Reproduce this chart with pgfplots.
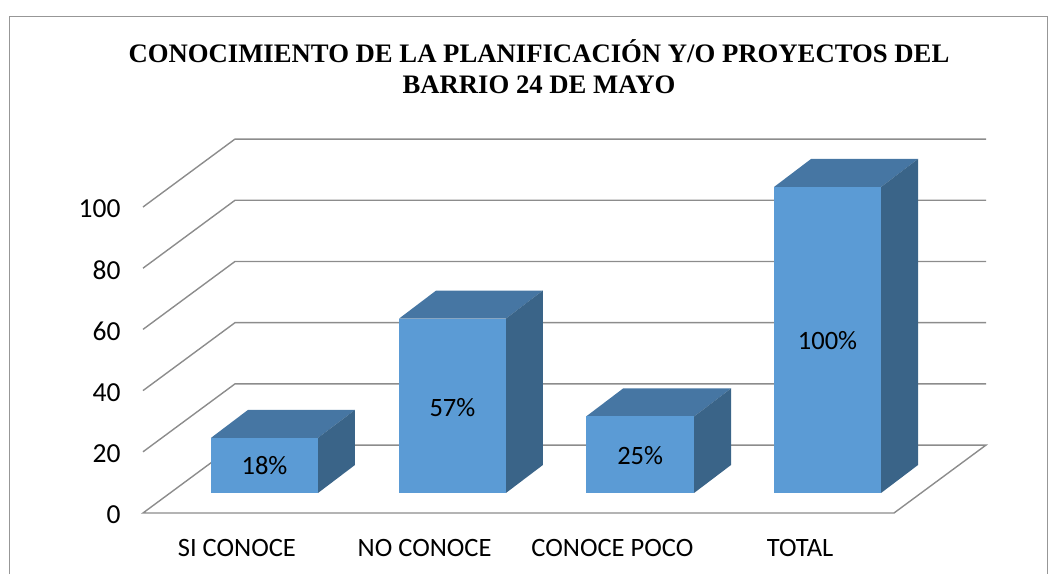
\documentclass[border=0pt]{standalone}
\usepackage{pgfplots}
\pgfplotsset{compat=1.18}
\usepackage{fontspec}
\setmainfont{Carlito}
\newfontfamily\titlefont{Liberation Serif}
\definecolor{barfront}{HTML}{5B9BD5}
\definecolor{bartop}{HTML}{4676A3}
\definecolor{barside}{HTML}{3A6488}
\definecolor{gridc}{HTML}{8C8C8C}
\begin{document}
\begin{tikzpicture}[x=1pt,y=1pt]
\path[use as bounding box] (-143,-61) rectangle (914,513);
\draw[color=gridc!90!white,line width=1pt] (-133.5,-61) -- (-133.5,496.5) -- (904,496.5) -- (904,-61);
\begin{axis}[
  at={(0,0)},anchor=south west,
  scale only axis,width=751pt,height=306pt,
  xmin=-0.5,xmax=3.5,ymin=0,ymax=100,
  clip=false,
  axis line style={draw=none},
  major tick length=0pt,
  separate axis lines,
  axis x line*=bottom,axis y line*=left,
  xtick={0,1,2,3},
  xticklabels={SI CONOCE,NO CONOCE,CONOCE POCO,TOTAL},
  ytick={0,20,40,60,80,100},
  /pgf/number format/assume math mode=true,
  xticklabel style={font=\fontsize{26.5}{28}\selectfont,text height=17pt,text depth=0pt,yshift=-23pt},
  yticklabel style={font=\fontsize{27.5}{28}\selectfont,xshift=-19pt,yshift=-2pt},
]
% back wall and floor grid
\pgfplotsinvokeforeach{20,40,60,80,100}{
  \addplot[gridc,line width=1.4pt] coordinates {(-0.5,#1) (-0.01,#1+22.2) (3.99,#1+22.2)};
}
\addplot[gridc,line width=1.4pt] coordinates {(-0.01,22.2) (-0.5,0) (3.5,0) (3.99,22.2) (-0.01,22.2)};
% SI CONOCE 18
\addplot[fill=bartop,draw=none] coordinates {(-0.138,24.54) (0.432,24.54) (0.629,33.69) (0.059,33.69)} --cycle;
\addplot[fill=barside,draw=none] coordinates {(0.432,6.54) (0.629,15.69) (0.629,33.69) (0.432,24.54)} --cycle;
\addplot[fill=barfront,draw=none] coordinates {(-0.138,6.54) (0.432,6.54) (0.432,24.54) (-0.138,24.54)} --cycle;
% NO CONOCE 57
\addplot[fill=bartop,draw=none] coordinates {(0.864,63.54) (1.433,63.54) (1.630,72.69) (1.061,72.69)} --cycle;
\addplot[fill=barside,draw=none] coordinates {(1.433,6.54) (1.630,15.69) (1.630,72.69) (1.433,63.54)} --cycle;
\addplot[fill=barfront,draw=none] coordinates {(0.864,6.54) (1.433,6.54) (1.433,63.54) (0.864,63.54)} --cycle;
% CONOCE POCO 25
\addplot[fill=bartop,draw=none] coordinates {(1.860,31.54) (2.435,31.54) (2.632,40.69) (2.057,40.69)} --cycle;
\addplot[fill=barside,draw=none] coordinates {(2.435,6.54) (2.632,15.69) (2.632,40.69) (2.435,31.54)} --cycle;
\addplot[fill=barfront,draw=none] coordinates {(1.860,6.54) (2.435,6.54) (2.435,31.54) (1.860,31.54)} --cycle;
% TOTAL 100
\addplot[fill=bartop,draw=none] coordinates {(2.861,106.54) (3.431,106.54) (3.628,115.69) (3.058,115.69)} --cycle;
\addplot[fill=barside,draw=none] coordinates {(3.431,6.54) (3.628,15.69) (3.628,115.69) (3.431,106.54)} --cycle;
\addplot[fill=barfront,draw=none] coordinates {(2.861,6.54) (3.431,6.54) (3.431,106.54) (2.861,106.54)} --cycle;
% value labels
\node[font=\fontsize{26.5}{28}\selectfont] at (axis cs:0.147,15.4) {18\%};
\node[font=\fontsize{26.5}{28}\selectfont] at (axis cs:1.148,34.6) {57\%};
\node[font=\fontsize{26.5}{28}\selectfont] at (axis cs:2.148,18.9) {25\%};
\node[font=\fontsize{26.5}{28}\selectfont] at (axis cs:3.146,56.5) {100\%};
% title
\node[font=\titlefont\bfseries\fontsize{26.7}{30.5}\selectfont,align=center] at (axis cs:1.609,145.8) {CONOCIMIENTO DE LA PLANIFICACIÓN Y/O PROYECTOS DEL\\BARRIO 24 DE MAYO};
\end{axis}
\end{tikzpicture}
\end{document}
